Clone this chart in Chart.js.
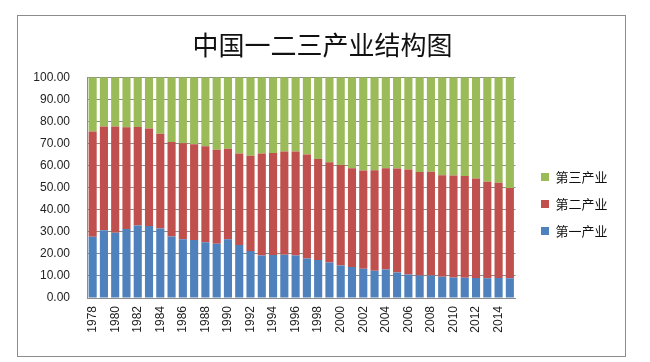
<!DOCTYPE html>
<html>
<head>
<meta charset="utf-8">
<script src="https://cdn.jsdelivr.net/npm/chart.js@4"></script>
<style>
  html, body { margin: 0; padding: 0; background: #fff; }
  #wrap { position: relative; width: 650px; height: 362px; }
  #frame { position: absolute; left: 17px; top: 15px; width: 607px; height: 340px; border: 1px solid #8c8c8c; }
  canvas { position: absolute; left: 0; top: 0; }
</style>
</head>
<body>
<div id="wrap">
  <div id="frame"></div>
  <canvas id="chart" width="650" height="362"></canvas>
</div>
<script>
  // 中国三次产业占GDP比重 (%), 1978-2015
  const years = [1978, 1979, 1980, 1981, 1982, 1983, 1984, 1985, 1986, 1987,
    1988, 1989, 1990, 1991, 1992, 1993, 1994, 1995, 1996, 1997,
    1998, 1999, 2000, 2001, 2002, 2003, 2004, 2005, 2006, 2007,
    2008, 2009, 2010, 2011, 2012, 2013, 2014, 2015];
  const primary = [27.7, 30.7, 29.6, 31.3, 32.8, 32.6, 31.5, 27.9, 26.6, 26.3,
    25.2, 24.6, 26.6, 24.0, 21.3, 19.3, 19.5, 19.6, 19.3, 17.9,
    17.2, 16.1, 14.7, 14.0, 13.3, 12.3, 12.9, 11.6, 10.6, 10.2,
    10.2, 9.6, 9.3, 9.2, 9.1, 8.9, 9.1, 8.9];
  const secondary = [47.7, 47.0, 48.1, 46.0, 44.6, 44.2, 42.9, 42.7, 43.5, 43.3,
    43.5, 42.5, 41.0, 41.5, 43.1, 46.2, 46.2, 46.8, 47.1, 47.1,
    45.8, 45.4, 45.5, 44.8, 44.5, 45.6, 45.9, 47.0, 47.6, 46.9,
    47.0, 46.0, 46.2, 46.1, 45.0, 43.7, 43.1, 40.9];
  const tertiary = [24.6, 22.3, 22.3, 22.7, 22.6, 23.2, 25.6, 29.4, 29.9, 30.4,
    31.3, 32.9, 32.4, 34.5, 35.6, 34.5, 34.3, 33.6, 33.6, 35.0,
    37.0, 38.5, 39.8, 41.2, 42.2, 42.1, 41.2, 41.4, 41.8, 42.9,
    42.8, 44.4, 44.5, 44.7, 45.9, 47.4, 47.8, 50.2];
  const yTicks = { min: 0, max: 100, step: 10 };

  const seriesNames = ['第一产业', '第二产业', '第三产业'];
  const seriesColors = ['#4f81bd', '#c0504d', '#9bbb59'];
  const seriesData = [primary, secondary, tertiary];

  // Excel put the legend lower than Chart.js centres it, and centred the
  // title on the whole frame rather than on the space left of the legend.
  const placeBoxes = {
    id: 'placeBoxes',
    afterLayout(chart) {
      const lg = chart.legend;
      const dy = 23;
      lg.top += dy; lg.bottom += dy;
      lg.left = 527; lg.right = 650; lg.width = 123;
      const t = chart.titleBlock;
      t.left = 20; t.right = 625; t.width = 605;
    }
  };

  new Chart(document.getElementById('chart'), {
    type: 'bar',
    data: {
      labels: years.map(String),
      datasets: seriesData.map((d, i) => ({
        label: seriesNames[i],
        data: d,
        backgroundColor: seriesColors[i],
        borderWidth: 0,
        barPercentage: 0.72,
        categoryPercentage: 1,
      })),
    },
    options: {
      responsive: false,
      animation: false,
      layout: { padding: { left: 17, right: 44, top: 0, bottom: 0 } },
      plugins: {
        title: {
          display: true,
          text: '中国一二三产业结构图',
          color: '#111',
          font: { family: '"Noto Sans CJK SC", sans-serif', size: 26, weight: 'normal' },
          padding: { top: 30, bottom: 16 },
        },
        legend: {
          position: 'right',
          reverse: true,
          labels: {
            boxWidth: 8,
            boxHeight: 8,
            padding: 14,
            color: '#111',
            font: { family: '"Noto Sans CJK SC", sans-serif', size: 13 },
          },
        },
        tooltip: { enabled: false },
      },
      scales: {
        x: {
          stacked: true,
          grid: { display: false, drawTicks: false },
          border: { color: '#8c8c8c' },
          ticks: {
            autoSkip: false,
            minRotation: 90,
            maxRotation: 90,
            padding: 8,
            color: '#222',
            font: { family: '"Liberation Sans", Arial, sans-serif', size: 12 },
            callback: (v, i) => (i % 2 === 0 ? years[i] : ''),
          },
          afterFit: (s) => { s.height = 64; },
        },
        y: {
          stacked: true,
          min: yTicks.min,
          max: yTicks.max,
          z: 1,
          grid: { color: '#8c8c8c', drawTicks: false },
          border: { color: '#8c8c8c' },
          ticks: {
            stepSize: yTicks.step,
            padding: 17,
            color: '#222',
            font: { family: '"Liberation Sans", Arial, sans-serif', size: 12 },
            callback: (v) => v.toFixed(2),
          },
          afterFit: (s) => { s.width = 70; },
        },
      },
    },
    plugins: [placeBoxes],
  });
</script>
</body>
</html>
